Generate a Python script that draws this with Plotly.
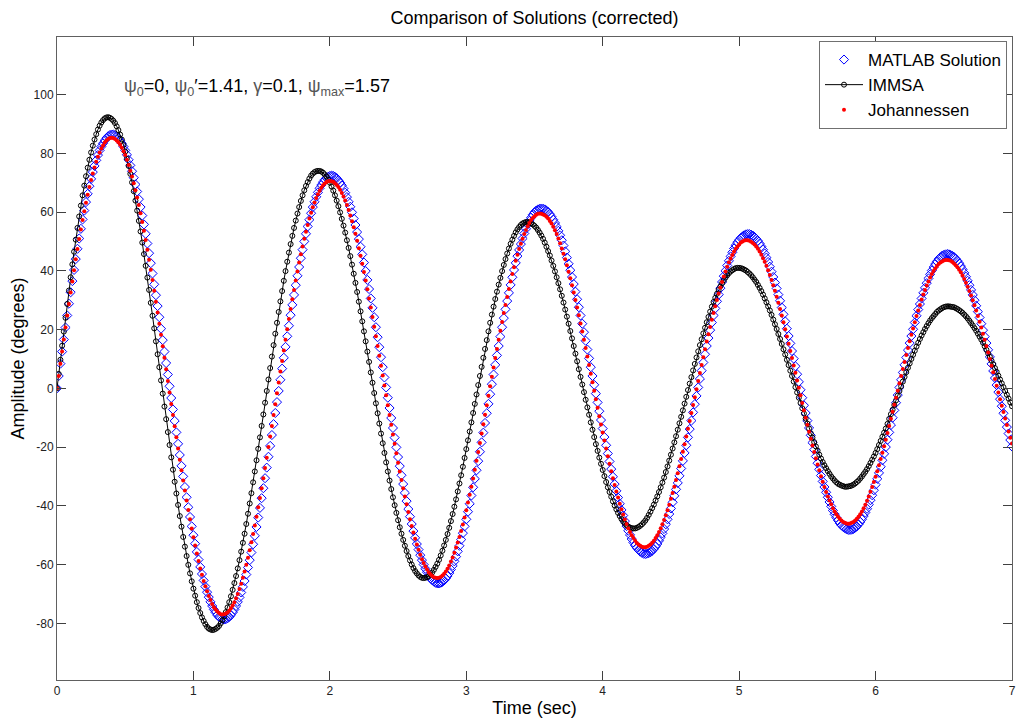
import numpy as np
import plotly.graph_objects as go

# ---------------- data ----------------
# Values are read at t = 0, 0.025, ..., 7.0 s ("grid") and at the points half-way
# between them ("half"), i.e. t = 0.0125, 0.0375, ..., 6.9875 s.
T_STEP = 0.025
N_GRID = 281

matlab_grid = [
    0, 8.4, 16.6, 24.8, 32.7, 40.3, 47.5, 54.3, 60.5, 66.2, 71.3, 75.7, 79.4, 82.3, 84.4, 85.8, 86.4,
    86.2, 85.2, 83.4, 81.0, 77.8, 73.9, 69.4, 64.4, 58.8, 52.6, 46.0, 39.1, 31.7, 24.2, 16.4, 8.6,
    0.7, -7.2, -15.0, -22.7, -30.0, -37.1, -43.8, -50.0, -55.7, -60.8, -65.4, -69.4, -72.7, -75.3, -77.2, -78.3,
    -78.7, -78.3, -77.2, -75.3, -72.7, -69.5, -65.6, -61.0, -55.9, -50.2, -44.0, -37.4, -30.6, -23.3, -15.9, -8.4,
    -0.9, 6.7, 14.1, 21.3, 28.4, 35.1, 41.3, 47.2, 52.6, 57.4, 61.7, 65.2, 68.1, 70.2, 71.6, 72.3,
    72.3, 71.5, 70.0, 68.0, 65.1, 61.8, 57.8, 53.2, 48.2, 42.8, 36.9, 30.6, 24.2, 17.4, 10.6, 3.7,
    -3.2, -10.1, -16.8, -23.4, -29.6, -35.6, -41.1, -46.2, -50.9, -54.9, -58.5, -61.4, -63.7, -65.3, -66.2, -66.4,
    -65.9, -64.7, -62.9, -60.4, -57.3, -53.6, -49.3, -44.6, -39.3, -33.7, -27.9, -21.6, -15.1, -8.5, -2.0, 4.7,
    11.2, 17.6, 23.9, 29.7, 35.2, 40.3, 45.0, 49.1, 52.7, 55.8, 58.1, 59.9, 60.9, 61.2,
    60.9, 60.0, 58.4, 56.3, 53.6, 50.4, 46.6, 42.4, 37.9, 32.9, 27.6, 22.0, 16.2, 10.2, 4.2, -1.8,
    -7.8, -13.7, -19.4, -24.9, -30.1, -34.9, -39.3, -43.3, -46.9, -49.9, -52.5, -54.3, -55.6, -56.3,
    -56.3, -55.8, -54.7, -53.0, -50.7, -47.9, -44.6, -40.9, -36.6, -32.2, -27.3, -22.0, -16.7, -11.0, -5.4, 0.3,
    6.0, 11.6, 17.1, 22.4, 27.2, 31.9, 36.2, 40.0, 43.4, 46.3, 48.7, 50.5, 51.7, 52.4,
    52.5, 52.0, 50.9, 49.3, 47.2, 44.5, 41.4, 37.9, 34.0, 29.8, 25.2, 20.3, 15.3, 10.1, 4.8, -0.5,
    -5.8, -11.0, -16.0, -20.9, -25.5, -29.7, -33.6, -37.1, -40.2, -42.9, -45.0, -46.6, -47.6, -48.2,
    -48.1, -47.5, -46.3, -44.6, -42.3, -39.6, -36.4, -32.8, -28.8, -24.5, -20.0, -15.0, -10.0, -4.9, 0.3,
    5.4, 10.5, 15.4, 20.1, 24.7, 28.7, 32.5, 35.8, 38.8, 41.2, 43.2, 44.6, 45.4, 45.7,
    45.4, 44.7, 43.4, 41.6, 39.3, 36.6, 33.5, 30.0, 26.1, 22.0, 17.6, 13.1, 8.3, 3.5, -1.3,
    -6.1, -10.9, -15.4, -19.8,
]
matlab_half = [
    4.2, 12.5, 20.7, 28.8, 36.5, 44.0, 51.0, 57.5, 63.4, 68.8, 73.6, 77.6, 81.0, 83.4, 85.2, 86.2,
    86.4, 85.8, 84.4, 82.3, 79.5, 75.9, 71.7, 67.0, 61.7, 55.8, 49.3, 42.6, 35.4, 28.0, 20.3, 12.5,
    4.7, -3.3, -11.1, -18.9, -26.4, -33.6, -40.5, -47.0, -52.9, -58.3, -63.2, -67.5, -71.1, -74.1, -76.3, -77.8,
    -78.6, -78.6, -77.8, -76.3, -74.1, -71.2, -67.6, -63.4, -58.5, -53.1, -47.2, -40.7, -34.0, -27.0, -19.6, -12.2,
    -4.7, 2.9, 10.4, 17.7, 24.9, 31.8, 38.3, 44.3, 50.0, 55.1, 59.6, 63.5, 66.7, 69.2, 71.0, 72.0,
    72.4, 72.0, 70.8, 69.1, 66.6, 63.5, 59.9, 55.6, 50.8, 45.6, 39.9, 33.8, 27.4, 20.8, 14.0, 7.2,
    0.3, -6.7, -13.5, -20.1, -26.5, -32.6, -38.4, -43.7, -48.6, -53.0, -56.8, -60.0, -62.6, -64.6, -65.8, -66.4,
    -66.2, -65.4, -63.9, -61.7, -58.9, -55.5, -51.5, -47.0, -42.0, -36.5, -30.8, -24.8, -18.4, -11.8, -5.3, 1.4,
    8.0, 14.4, 20.8, 26.9, 32.5, 37.8, 42.7, 47.1, 51.0, 54.3, 57.0, 59.1, 60.5, 61.1,
    61.1, 60.5, 59.3, 57.4, 55.0, 52.1, 48.6, 44.5, 40.2, 35.5, 30.3, 24.8, 19.1, 13.2, 7.2, 1.2,
    -4.8, -10.8, -16.6, -22.2, -27.5, -32.6, -37.2, -41.4, -45.2, -48.5, -51.3, -53.5, -55.0, -56.0,
    -56.4, -56.1, -55.3, -53.9, -51.9, -49.4, -46.3, -42.8, -38.8, -34.4, -29.8, -24.7, -19.4, -13.9, -8.2, -2.6,
    3.2, 8.8, 14.4, 19.8, 24.8, 29.6, 34.1, 38.2, 41.8, 44.9, 47.6, 49.7, 51.2, 52.1,
    52.5, 52.3, 51.5, 50.2, 48.3, 45.9, 43.0, 39.7, 36.0, 31.9, 27.5, 22.8, 17.8, 12.7, 7.5, 2.2,
    -3.2, -8.4, -13.5, -18.5, -23.2, -27.6, -31.7, -35.4, -38.7, -41.6, -44.0, -45.9, -47.2, -48.0,
    -48.2, -47.9, -47.0, -45.5, -43.5, -41.0, -38.1, -34.7, -30.8, -26.7, -22.3, -17.5, -12.5, -7.5, -2.3,
    2.9, 8.0, 13.0, 17.8, 22.4, 26.8, 30.6, 34.2, 37.4, 40.1, 42.3, 44.0, 45.1, 45.6,
    45.6, 45.1, 44.1, 42.6, 40.5, 38.0, 35.1, 31.8, 28.1, 24.1, 19.8, 15.4, 10.7, 5.9, 1.1,
    -3.7, -8.5, -13.2, -17.6,
]

immsa_grid = [
    0, 9.7, 19.3, 28.7, 37.8, 46.5, 54.6, 62.2, 69.0, 75.1, 80.3, 84.7, 88.1, 90.5, 91.9, 92.3,
    91.7, 90.3, 87.9, 84.7, 80.6, 75.7, 70.1, 63.9, 57.0, 49.6, 41.7, 33.5, 24.7, 16.0, 7.2,
    -1.8, -10.5, -19.3, -27.7, -35.8, -43.5, -50.6, -57.1, -63.0, -68.2, -72.8, -76.5, -79.2, -81.2, -82.1,
    -82.2, -81.5, -80.0, -77.7, -74.6, -70.8, -66.3, -61.3, -55.6, -49.5, -42.7, -35.7, -28.3, -20.6, -12.8, -4.9,
    3.0, 10.8, 18.6, 26.0, 33.1, 39.9, 46.2, 51.9, 57.1, 61.7, 65.7, 68.9, 71.4, 73.1, 73.9,
    74.0, 73.4, 72.1, 70.0, 67.3, 63.9, 59.9, 55.4, 50.4, 45.0, 39.0, 32.8, 26.2, 19.4, 12.5, 5.4,
    -1.6, -8.5, -15.4, -22.0, -28.3, -34.3, -39.8, -44.9, -49.5, -53.6, -57.1, -60.0, -62.2, -63.7, -64.5,
    -64.5, -63.9, -62.7, -60.8, -58.4, -55.3, -51.6, -47.5, -42.8, -37.8, -32.4, -26.7, -20.7, -14.7, -8.4, -2.1,
    4.2, 10.4, 16.4, 22.3, 27.8, 32.9, 37.6, 42.0, 45.9, 49.2, 51.9, 54.1, 55.6, 56.4,
    56.6, 56.2, 55.3, 53.9, 52.0, 49.6, 46.7, 43.5, 39.8, 35.8, 31.5, 26.8, 22.0, 17.0, 11.8, 6.5,
    1.3, -3.9, -9.0, -14.1, -19.0, -23.6, -27.8, -31.9, -35.3, -38.5, -41.2, -43.5, -45.4, -46.7, -47.4,
    -47.7, -47.5, -46.8, -45.7, -44.1, -42.0, -39.6, -36.8, -33.7, -30.4, -26.6, -22.6, -18.4, -14.1, -9.7, -5.2,
    -0.6, 3.8, 8.3, 12.6, 16.7, 20.6, 24.3, 27.8, 30.8, 33.5, 35.8, 37.7, 39.2, 40.2, 40.9,
    41.0, 40.7, 40.1, 39.1, 37.8, 36.2, 34.2, 31.9, 29.3, 26.5, 23.4, 20.2, 16.8, 13.3, 9.7, 6.0,
    2.3, -1.4, -5.0, -8.6, -12.0, -15.3, -18.3, -21.2, -23.9, -26.2, -28.2, -30.0, -31.4, -32.5, -33.1, -33.5,
    -33.4, -33.1, -32.4, -31.4, -30.0, -28.4, -26.5, -24.3, -22.0, -19.3, -16.5, -13.7, -10.4, -7.3, -4.1,
    -0.9, 2.3, 5.5, 8.5, 11.4, 14.2, 16.8, 19.1, 21.2, 23.1, 24.6, 26.0, 26.9, 27.6, 27.9,
    27.8, 27.6, 27.0, 26.2, 25.1, 23.8, 22.2, 20.5, 18.6, 16.6, 14.3, 11.9, 9.4, 6.9, 4.3,
    1.7, -0.9, -3.5, -6.1,
]
immsa_half = [
    4.9, 14.5, 24.0, 33.3, 42.2, 50.6, 58.5, 65.7, 72.2, 77.8, 82.6, 86.5, 89.4, 91.3, 92.2,
    92.1, 91.1, 89.2, 86.4, 82.8, 78.2, 73.0, 67.1, 60.5, 53.4, 45.7, 37.7, 29.1, 20.4, 11.6,
    2.7, -6.2, -14.9, -23.5, -31.8, -39.7, -47.1, -53.9, -60.1, -65.7, -70.6, -74.8, -78.0, -80.3, -81.8,
    -82.3, -81.9, -80.9, -78.9, -76.2, -72.8, -68.6, -63.9, -58.5, -52.6, -46.2, -39.2, -32.0, -24.5, -16.7, -8.9,
    -0.9, 6.9, 14.7, 22.3, 29.6, 36.6, 43.1, 49.1, 54.6, 59.5, 63.8, 67.4, 70.2, 72.4, 73.6,
    74.0, 73.8, 72.8, 71.1, 68.7, 65.7, 62.0, 57.7, 53.0, 47.8, 42.1, 35.9, 29.5, 22.8, 16.0, 9.0,
    1.9, -5.1, -12.0, -18.7, -25.2, -31.4, -37.1, -42.4, -47.3, -51.6, -55.4, -58.6, -61.2, -63.0, -64.2,
    -64.6, -64.3, -63.4, -61.8, -59.7, -56.9, -53.5, -49.6, -45.2, -40.3, -35.1, -29.6, -23.7, -17.7, -11.6, -5.3,
    1.1, 7.3, 13.4, 19.4, 25.1, 30.4, 35.3, 39.9, 44.0, 47.6, 50.6, 53.1, 54.9, 56.1,
    56.6, 56.5, 55.8, 54.7, 53.0, 50.9, 48.2, 45.2, 41.7, 37.8, 33.7, 29.2, 24.4, 19.5, 14.4, 9.2,
    3.9, -1.3, -6.5, -11.6, -16.6, -21.3, -25.7, -29.9, -33.7, -36.9, -39.9, -42.4, -44.5, -46.1, -47.1,
    -47.6, -47.7, -47.2, -46.3, -45.0, -43.1, -40.8, -38.2, -35.3, -32.1, -28.5, -24.6, -20.5, -16.3, -11.9, -7.5,
    -2.9, 1.6, 6.1, 10.5, 14.7, 18.7, 22.5, 26.1, 29.4, 32.2, 34.7, 36.8, 38.5, 39.8, 40.6,
    41.0, 40.9, 40.4, 39.6, 38.5, 37.0, 35.2, 33.1, 30.6, 27.9, 25.0, 21.8, 18.5, 15.1, 11.5, 7.9,
    4.2, 0.4, -3.2, -6.8, -10.3, -13.7, -16.8, -19.8, -22.6, -25.1, -27.2, -29.1, -30.7, -32.0, -32.8, -33.3,
    -33.5, -33.3, -32.8, -31.9, -30.7, -29.2, -27.5, -25.4, -23.2, -20.7, -17.9, -15.1, -12.1, -8.8, -5.7,
    -2.5, 0.7, 3.9, 7.0, 10.0, 12.8, 15.5, 18.0, 20.2, 22.2, 23.9, 25.3, 26.5, 27.3, 27.8,
    27.9, 27.7, 27.3, 26.6, 25.7, 24.5, 23.0, 21.4, 19.6, 17.6, 15.5, 13.1, 10.7, 8.2, 5.6,
    3.0, 0.4, -2.2, -4.8,
]

johannessen_grid = [
    0, 8.4, 16.6, 24.8, 32.6, 40.2, 47.4, 54.1, 60.3, 65.9, 70.9, 75.2, 78.8, 81.6, 83.7, 84.9, 85.3,
    84.9, 83.8, 81.9, 79.4, 76.0, 72.1, 67.4, 62.4, 56.6, 50.5, 43.8, 36.9, 29.5, 22.0, 14.3, 6.5,
    -1.4, -9.1, -16.7, -24.3, -31.4, -38.2, -44.6, -50.7, -56.2, -61.3, -65.6, -69.1, -72.1, -74.5, -76.0, -76.9,
    -76.9, -76.3, -74.9, -72.8, -70.0, -66.5, -62.4, -57.7, -52.4, -46.7, -40.5, -34.0, -27.1, -20.0, -12.8, -5.4,
    2.0, 9.3, 16.5, 23.6, 30.3, 36.7, 42.8, 48.3, 53.3, 57.8, 61.6, 64.8, 67.3, 69.1, 70.2, 70.6,
    70.3, 69.2, 67.6, 65.3, 62.4, 58.8, 54.8, 50.2, 45.1, 39.6, 33.7, 27.5, 21.0, 14.4, 7.7, 1.0,
    -5.8, -12.4, -18.9, -25.3, -31.2, -36.8, -42.1, -46.9, -51.2, -55.0, -58.2, -60.7, -62.6, -63.9, -64.5,
    -64.5, -63.7, -62.4, -60.3, -57.6, -54.2, -50.6, -46.4, -41.5, -36.2, -30.7, -24.7, -18.6, -12.2, -5.8, 0.7,
    7.1, 13.4, 19.6, 25.6, 31.1, 36.4, 41.2, 45.5, 49.2, 52.5, 55.2, 57.3, 58.6, 59.4,
    59.4, 58.9, 57.8, 56.1, 53.8, 51.0, 47.6, 43.9, 39.7, 35.1, 30.1, 24.9, 19.3, 13.7, 7.9, 2.1,
    -3.7, -9.5, -15.0, -20.5, -25.7, -30.6, -35.1, -39.3, -43.0, -46.2, -48.9, -51.0, -52.7, -53.6, -54.1,
    -53.9, -53.2, -51.9, -50.0, -47.6, -44.8, -41.5, -37.6, -33.5, -28.9, -24.1, -19.0, -13.8, -8.4, -3.0,
    2.5, 7.9, 13.3, 18.4, 23.3, 27.9, 32.3, 36.2, 39.8, 42.9, 45.4, 47.5, 49.0, 50.0, 50.4,
    50.2, 49.5, 48.3, 46.6, 44.3, 41.7, 38.6, 35.1, 31.2, 27.0, 22.5, 17.6, 12.7, 7.8, 2.7,
    -2.4, -7.5, -12.4, -17.2, -21.7, -25.9, -29.9, -33.6, -36.8, -39.5, -41.9, -43.7, -45.0, -45.8, -46.1,
    -45.8, -45.0, -43.7, -41.9, -39.6, -36.8, -33.6, -30.1, -26.2, -21.9, -17.5, -12.8, -8.0, -3.2,
    1.7, 6.6, 11.3, 16.0, 20.4, 24.6, 28.4, 31.9, 35.0, 37.7, 39.9, 41.6, 42.8, 43.5, 43.7,
    43.4, 42.5, 41.2, 39.5, 37.2, 34.6, 31.6, 28.3, 24.6, 20.7, 16.5, 12.2, 7.7, 3.2, -1.4,
    -5.9, -10.3, -14.7, -18.8,
]
johannessen_half = [
    4.2, 12.5, 20.7, 28.7, 36.4, 43.9, 50.8, 57.3, 63.2, 68.5, 73.1, 77.1, 80.3, 82.7, 84.4, 85.2,
    85.2, 84.4, 82.9, 80.7, 77.8, 74.1, 69.8, 65.0, 59.6, 53.6, 47.2, 40.4, 33.2, 25.8, 18.2, 10.4,
    2.5, -5.3, -12.9, -20.5, -27.9, -34.8, -41.4, -47.7, -53.5, -58.8, -63.5, -67.4, -70.7, -73.4, -75.3, -76.5,
    -77.0, -76.7, -75.7, -73.9, -71.5, -68.3, -64.5, -60.1, -55.1, -49.6, -43.7, -37.3, -30.6, -23.6, -16.4, -9.1,
    -1.7, 5.7, 12.9, 20.1, 27.0, 33.5, 39.8, 45.6, 50.9, 55.6, 59.8, 63.3, 66.1, 68.3, 69.7, 70.5,
    70.5, 69.8, 68.5, 66.5, 63.9, 60.7, 56.9, 52.6, 47.7, 42.4, 36.7, 30.6, 24.3, 17.7, 11.1, 4.4,
    -2.4, -9.1, -15.7, -22.1, -28.3, -34.0, -39.5, -44.6, -49.1, -53.2, -56.7, -59.5, -61.7, -63.3, -64.3,
    -64.6, -64.2, -63.1, -61.4, -59.0, -56.0, -52.5, -48.6, -44.0, -38.9, -33.5, -27.7, -21.7, -15.4, -9.0, -2.5,
    3.9, 10.3, 16.5, 22.6, 28.4, 33.8, 38.9, 43.4, 47.4, 50.9, 53.9, 56.3, 58.0, 59.1,
    59.5, 59.2, 58.4, 57.0, 55.0, 52.5, 49.4, 45.8, 41.9, 37.5, 32.6, 27.5, 22.1, 16.5, 10.8, 5.0,
    -0.8, -6.6, -12.3, -17.8, -23.1, -28.2, -32.9, -37.2, -41.2, -44.7, -47.6, -50.0, -51.9, -53.2, -53.9,
    -54.1, -53.6, -52.6, -51.0, -48.9, -46.3, -43.2, -39.6, -35.6, -31.2, -26.5, -21.6, -16.4, -11.1, -5.7,
    -0.3, 5.2, 10.6, 15.9, 20.9, 25.6, 30.1, 34.3, 38.1, 41.4, 44.2, 46.5, 48.3, 49.6, 50.3,
    50.4, 49.9, 49.0, 47.5, 45.5, 43.1, 40.2, 36.9, 33.2, 29.1, 24.8, 20.1, 15.2, 10.3, 5.3,
    0.2, -5.0, -10.0, -14.8, -19.5, -23.8, -27.9, -31.8, -35.3, -38.2, -40.8, -42.9, -44.4, -45.5, -46.0,
    -46.0, -45.5, -44.4, -42.9, -40.8, -38.3, -35.2, -31.9, -28.2, -24.1, -19.7, -15.2, -10.4, -5.6, -0.8,
    4.2, 9.0, 13.7, 18.2, 22.5, 26.5, 30.2, 33.5, 36.4, 38.9, 40.8, 42.3, 43.2, 43.7,
    43.6, 43.0, 41.9, 40.4, 38.4, 35.9, 33.1, 30.0, 26.5, 22.7, 18.6, 14.4, 10.0, 5.5, 0.9,
    -3.7, -8.1, -12.5, -16.8,
]

x_ticks = [0, 1, 2, 3, 4, 5, 6, 7]
y_ticks = [-80, -60, -40, -20, 0, 20, 40, 60, 80, 100]

t_grid = np.arange(N_GRID) * T_STEP
t_half = t_grid[:-1] + T_STEP / 2


def merged(grid_vals, half_vals):
    assert len(grid_vals) == N_GRID and len(half_vals) == N_GRID - 1
    t = np.concatenate([t_grid, t_half])
    v = np.concatenate([np.asarray(grid_vals, float), np.asarray(half_vals, float)])
    order = np.argsort(t, kind="stable")
    return t[order], v[order]


t_m, v_m = merged(matlab_grid, matlab_half)
t_i, v_i = merged(immsa_grid, immsa_half)
t_j, v_j = merged(johannessen_grid, johannessen_half)

FONT = "Liberation Sans, Arial, Helvetica, sans-serif"

# plot-area geometry (pixels in the 1016x722 page)
L, R, TOP, BOT = 57, 1012, 37, 680
W, H = 1016, 722

fig = go.Figure()
fig.add_trace(go.Scatter(
    x=t_m, y=v_m, mode="markers", name="MATLAB Solution",
    marker=dict(symbol="diamond-open", size=7, color="#0000ff", line=dict(width=1, color="#0000ff")),
))
fig.add_trace(go.Scatter(
    x=t_i, y=v_i, mode="lines+markers", name="IMMSA",
    line=dict(color="black", width=1),
    marker=dict(symbol="circle-open", size=5, color="black", line=dict(width=1, color="black")),
))
fig.add_trace(go.Scatter(
    x=t_j, y=v_j, mode="markers", name="Johannessen",
    marker=dict(symbol="circle", size=4, color="#ff0000", line=dict(width=0)),
))

axis_common = dict(
    showgrid=False, zeroline=False, showline=True, linecolor="#606060", linewidth=1,
    mirror="ticks", ticks="inside", ticklen=9, tickcolor="#404040", tickwidth=1,
    tickfont=dict(family=FONT, size=12, color="#222222"), automargin=False,
)

fig.update_layout(
    width=W, height=H,
    margin=dict(l=L, r=W - R, t=TOP, b=H - BOT, autoexpand=False),
    paper_bgcolor="white", plot_bgcolor="white",
    title=dict(text="Comparison of Solutions (corrected)", x=(L + R) / 2 / W, xanchor="center",
               y=1 - 18 / H, yanchor="middle", font=dict(family=FONT, size=18, color="black")),
    xaxis=dict(range=[0, 7], tickvals=x_ticks, ticktext=[str(v) for v in x_ticks],
               title=dict(text="Time (sec)", font=dict(family=FONT, size=18, color="black"), standoff=3),
               **axis_common),
    yaxis=dict(range=[-99.3, 119.6], tickvals=y_ticks, ticktext=[str(v) for v in y_ticks],
               title=dict(text="Amplitude (degrees)", font=dict(family=FONT, size=18, color="black"), standoff=4),
               **axis_common),
    legend=dict(x=(819 - L) / (R - L), xanchor="left", y=(BOT - 41) / (BOT - TOP), yanchor="top",
                bgcolor="white", bordercolor="#707070", borderwidth=1,
                font=dict(family=FONT, size=17, color="black"),
                itemwidth=38),
    showlegend=True,
)

fig.add_annotation(
    xref="paper", yref="paper", x=(122 - L) / (R - L), y=(BOT - 88) / (BOT - TOP),
    xanchor="left", yanchor="middle", showarrow=False,
    text=("<span style='color:#555555'>ψ<sub>0</sub></span>=0, "
          "<span style='color:#555555'>ψ<sub>0</sub></span>′=1.41, "
          "<span style='color:#555555'>γ</span>=0.1, "
          "<span style='color:#555555'>ψ<sub>max</sub></span>=1.57"),
    font=dict(family=FONT, size=18, color="black"),
)

fig.write_html(
    "out.html",
    config={"displayModeBar": False},
    post_script="document.body.style.margin='0px';document.body.style.padding='0px';"
                "document.body.style.overflow='hidden';",
)
